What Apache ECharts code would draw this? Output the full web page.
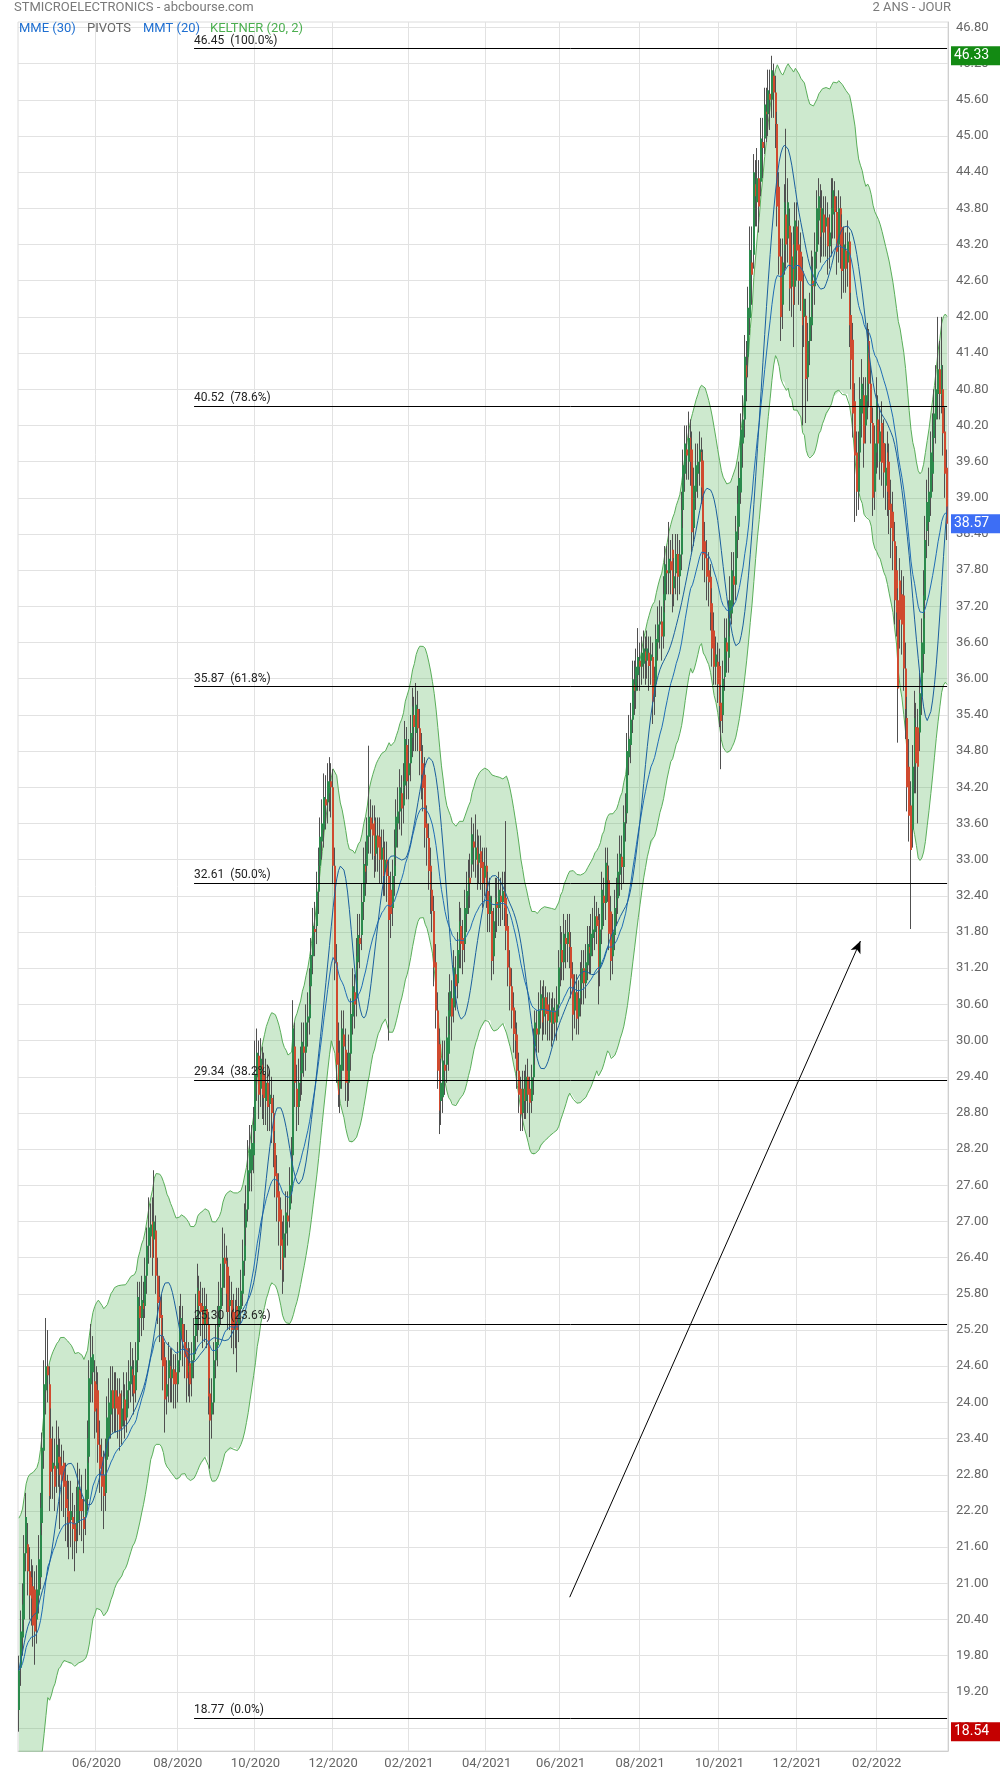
<!DOCTYPE html>
<html><head><meta charset="utf-8">
<script src="https://cdn.jsdelivr.net/npm/echarts@6/dist/echarts.min.js"></script>
<style>html,body{margin:0;padding:0;background:#fff}#c{width:1000px;height:1774px}</style>
</head><body><div id="c"></div>
<script>
// Daily candles: [open, close, low, high]
const ohlc = [
[18.9,19.56,18.54,19.8],[19.6,20.2,19.3,20.55],[20.1,20.65,19.8,21],[20.4,21.5,20.2,21.8],[21.5,22.1,21.2,22.5],
[21.65,21.2,20.8,22],[21.2,20.8,20.4,21.6],[21.1,20.75,20.3,21.4],[20.95,20.3,19.95,21.3],[20.9,20.2,19.65,21.2],
[20.4,20.9,20,21.3],[20.8,21.4,20.5,21.8],[21.1,22.25,20.9,22.5],[22,23.25,21.8,23.5],[23.2,24.3,22.9,24.7],
[24.2,24.6,23.8,25.4],[24.6,24.45,24,25.2],[24.3,22.45,22.2,24.6],[23.4,22.85,22.4,23.9],[22.9,23,22.4,23.6],
[22.95,22.6,22.2,23.4],[22.9,23.3,22.5,23.7],[23.1,23,22.6,23.6],[23.1,22.8,21.9,23.4],[22.95,22.7,22.2,23.3],
[23,22.6,22.1,23.2],[22.7,22.25,21.7,23],[22.4,22.1,21.6,22.8],[22.2,22,21.4,22.7],[22.05,22.2,21.6,22.7],
[22.1,21.9,21.4,22.5],[22,21.7,21.2,22.3],[21.9,22.2,21.5,22.6],[22,22.6,21.7,23],[22.55,22.2,21.8,22.9],
[22.4,22.2,21.7,22.8],[22.1,21.9,21.5,22.4],[22.1,22.55,21.8,22.9],[22.4,23.4,22.2,23.7],[23.1,24.4,23,24.7],
[24.3,24.75,24,25.3],[24.5,24.8,24,25.1],[24.35,23.85,23.4,24.7],[24.3,23.9,23.5,24.6],[24.2,23.3,23,24.5],
[23.3,22.9,22.5,23.7],[23.1,22.6,22.2,23.4],[22.8,22.45,21.9,23.2],[22.5,23.05,22.2,23.4],[23.05,23.75,22.8,24.1],
[23.4,24,23.1,24.4],[23.8,24.2,23.4,24.6],[24.2,23.9,23.5,24.6],[23.9,24.2,23.5,24.5],[24.2,23.9,23.5,24.5],
[24.1,23.8,23.4,24.4],[24.15,23.55,23.2,24.4],[23.6,23.9,23.3,24.2],[23.9,24.1,23.6,24.5],[24.05,23.7,23.4,24.3],
[23.75,24.2,23.5,24.5],[24.2,24.35,23.9,24.7],[24.3,24.6,24,25],[24.55,24.45,24.1,24.9],[24.45,24.15,23.8,24.7],
[24.2,24.7,24,25],[24.7,25.75,24.5,26],[25.6,25.4,25,26],[25.4,25.7,25.1,26.1],[25.65,25.55,25.2,26],
[25.6,26.1,25.4,26.4],[26.1,26.6,25.8,26.9],[26.6,26.9,26.3,27.4],[26.75,26.95,26.4,27.3],[27,26.4,26.1,27.4],
[26.7,27,26.4,27.85],[26.85,26.1,25.8,27.1],[26.1,25.65,25.3,26.4],[25.75,25.4,25,26.1],[25.45,25.1,24.7,25.8],
[25.1,24.6,24.2,25.4],[24.75,24.05,23.5,25],[24.1,24.3,23.8,24.7],[24.4,24.7,24,25],[24.6,24.4,24,24.9],
[24.4,24.55,24,24.9],[24.55,24.3,23.9,24.8],[24.5,24.3,23.9,24.8],[24.3,24.7,24,25],[24.7,25.3,24.5,25.6],
[25.05,25.4,24.8,25.8],[25.3,25,24.6,25.6],[25,24.75,24.4,25.3],[24.9,24.4,24,25.2],[24.5,24.6,24.1,25],
[24.65,24.3,24,24.9],[24.4,24.7,24.1,25],[24.7,25.1,24.4,25.4],[25.1,25.4,24.8,25.8],[25.3,25.9,25,26.3],
[25.85,25.6,25.2,26.1],[25.65,25.5,25.1,26],[25.6,25.3,24.9,25.9],[25.3,25.6,25,25.9],[25.55,25.3,24.9,25.8],
[25.3,24.1,23.8,25.5],[24.15,23.7,22.9,24.4],[23.8,24,23.4,24.4],[24,24.7,23.8,25],[24.7,25,24.4,25.3],
[24.95,25.25,24.6,25.6],[25.25,25.6,25,26],[25.55,25.9,25.3,26.3],[25.9,26.4,25.6,26.9],[26.4,26.3,25.9,26.8],
[26.35,25.8,25.5,26.6],[26.25,25.5,25.2,26.4],[25.6,25.7,25.2,26.1],[25.7,25.2,24.9,26],[25.5,25.2,24.8,25.8],
[25.2,25.4,24.9,25.7],[25.6,25.2,24.5,25.9],[25.3,25.6,25,25.9],[25.55,25.85,25.3,26.2],[25.8,26.35,25.6,26.7],
[26.35,26.9,26.1,27.3],[26.9,27.2,26.6,27.6],[27.2,27.85,27,28.35],[27.8,28.2,27.5,28.6],[27.85,28.3,27.5,28.6],
[28.1,28.6,27.8,28.9],[28.5,29.45,28.3,30],[29.4,29.8,29,30.2],[29.75,29.1,28.7,30],[29.2,29.7,28.9,30.04],
[29.6,29.1,28.7,29.9],[29.45,29.05,28.6,29.8],[29,29.3,28.6,29.7],[29.3,28.9,28.5,29.6],[28.95,29.1,28.5,29.5],
[29.05,28.8,28.3,29.4],[28.8,28.3,27.9,29.1],[28.3,27.75,27.4,28.5],[27.8,27.4,27,28.1],[27.5,27,26.6,27.8],
[27.2,26.6,26.2,27.4],[26.7,26.2,25.8,27],[26.4,26.8,26,27.1],[26.8,27.15,26.4,27.5],[27.1,27,26.6,27.5],
[27.2,27.6,26.9,27.9],[27.5,28.1,27.3,28.4],[28.1,30.2,28,30.67],[29.9,29.3,28.9,30.3],[29.2,28.9,28.5,29.6],
[28.9,29.3,28.6,29.7],[29.3,29.5,29,29.9],[29.46,29.98,29.1,30.3],[29.9,29.8,29.4,30.3],[29.8,30.3,29.5,30.6],
[30.3,30.4,29.9,30.8],[30.37,30.9,30.1,31.2],[30.9,31.42,30.6,31.7],[31.4,31.9,31.1,32.2],[31.85,31.8,31.4,32.3],
[31.9,32.47,31.6,32.8],[32.47,32.9,32.1,33.2],[32.9,33.38,32.6,33.7],[33.3,33.6,33,34],[33.5,34.04,33.2,34.43],
[34,33.9,33.5,34.4],[33.95,34.3,33.6,34.6],[34.1,34.3,33.8,34.7],[34.3,34.2,33.7,34.6],[34.2,32.9,32.6,34.5],
[32.9,31.3,31,33.2],[31.3,29.6,29.3,31.6],[29.8,29.1,28.9,30.3],[29.2,29.6,28.8,30],[29.5,30.2,29.2,30.5],
[30.1,29.9,29.5,30.5],[29.85,29.3,29,30.2],[29.5,29.3,28.9,29.8],[29.3,29.8,29,30.1],[29.78,30.44,29.5,30.7],
[30.4,30.9,30.1,31.2],[30.8,30.6,30.2,31.1],[30.7,31.4,30.4,31.7],[31.3,31.75,31,32.1],[31.7,31.6,31.2,32.1],
[31.75,32.3,31.5,32.6],[32.3,32.93,32,33.2],[32.9,32.8,32.4,33.3],[32.9,33.4,32.6,33.7],[33.38,33.71,33.1,34.89],
[33.7,33.5,33.1,34],[33.6,33.4,33,33.9],[33.65,33.06,32.7,33.9],[33.1,33.4,32.8,33.7],[33.4,33.2,32.8,33.7],
[33.38,33,32.6,33.7],[33,33.2,32.6,33.5],[33.19,32.73,32.4,33.5],[32.8,33,32.4,33.3],[33,32.73,32.3,33.3],
[32.73,32,30,33],[32.5,32.1,31.7,32.8],[32.2,32.73,31.9,33],[32.73,33.2,32.4,33.5],[33.2,33.71,32.9,34],
[33.6,33.8,33.2,34.2],[33.8,34.2,33.5,34.5],[34.1,33.85,33.4,34.4],[33.9,34.3,33.6,34.6],[34.23,35,34,35.3],
[34.9,34.3,34,35.2],[34.4,34.6,34,35],[34.6,35.1,34.3,35.4],[35.02,35.54,34.7,35.85],[35.4,35.2,34.8,35.7],
[35.1,35.57,34.8,35.93],[35.5,35.18,34.8,35.8],[35.18,34.8,34.4,35.5],[34.8,34.41,34,35.1],[34.6,34.19,33.8,34.9],
[34.41,33.53,33.2,34.7],[33.6,33.36,32.9,33.9],[33.36,32.81,32.5,33.6],[32.9,32.5,32.1,33.2],[32.5,32.15,31.8,32.8],
[32.15,31.21,30.9,32.4],[31.3,30.5,30.2,31.6],[30.5,29.5,29.2,30.8],[29.94,28.84,28.45,30.2],[29,29.3,28.6,29.7],
[29.06,29.67,28.8,30],[29.6,29.5,29.1,30],[29.6,30.05,29.3,30.4],[29.78,30.5,29.5,30.8],[30.4,30.82,30.1,31.1],
[30.7,30.4,30,31],[30.55,31.21,30.3,31.5],[31.1,30.9,30.5,31.4],[30.95,31.5,30.7,31.8],[31.43,31.98,31.2,32.3],
[31.9,31.6,31.2,32.2],[31.7,31.5,31.1,32],[31.6,32.2,31.3,32.5],[32.1,32.48,31.8,32.8],[32.4,32.7,32.1,33],
[32.7,32.6,32.2,33.1],[32.92,33.42,32.7,33.7],[33.3,33.2,32.8,33.6],[33,33.2,32.7,33.75],[33.2,32.92,32.5,33.5],
[32.95,33.1,32.6,33.4],[33.14,32.86,32.5,33.4],[32.96,32.6,32.2,33.2],[32.7,32.9,32.4,33.2],[32.9,32.5,32.2,33.2],
[32.48,32.1,31.8,32.8],[32.1,32.4,31.8,32.7],[32.15,31.32,31,32.4],[31.4,31.98,31.1,32.2],[31.98,32.37,31.7,32.7],
[32.3,32.2,31.8,32.7],[32.2,32.5,31.9,32.8],[32.4,32.3,31.9,32.7],[32.3,32.48,32,32.8],[32.48,32.2,31.9,32.8],
[32.37,31.82,31.5,33.64],[31.9,31.21,30.9,32.1],[31.21,30.9,30.5,31.5],[30.9,30.5,30.2,31.2],[30.55,30.11,29.8,30.8],
[30.2,30,29.7,30.5],[30.1,29.5,29.2,30.3],[29.5,29.1,28.8,29.8],[29.2,28.78,28.5,29.4],[28.8,29.2,28.5,29.5],
[29.2,29,28.7,29.5],[29,29.4,28.7,29.6],[29.4,29.1,28.8,29.7],[29.2,28.97,28.4,29.4],[29,29.39,28.8,29.6],
[29.39,29.94,29.1,30.2],[29.9,30.3,29.6,30.5],[30.2,30.1,29.8,30.5],[30.1,30.5,29.8,30.8],[30.5,30.77,30.2,31],
[30.7,30.3,30,30.9],[30.4,30.72,30.1,31],[30.72,30.44,30.1,30.9],[30.6,30.33,30,30.8],[30.3,30.5,30,30.8],
[30.5,30.28,29.9,30.7],[30.28,30.55,30,30.8],[30.5,30.3,30,30.7],[30.3,30.6,30,30.9],[30.6,31.21,30.4,31.5],
[31.21,31.6,30.9,31.9],[31.5,31.3,31,31.8],[31.3,31.77,31,32.1],[31.7,31.6,31.2,32],[31.6,31.8,31.3,32.1],
[31.8,31.55,31.2,32.1],[31.55,31.03,30.7,31.8],[31.1,30.43,30,31.3],[30.5,30.8,30.2,31.1],[30.8,30.36,30.1,31.1],
[30.4,30.7,30.1,31],[30.7,31,30.4,31.3],[30.95,31.2,30.6,31.5],[31.2,30.95,30.6,31.5],[30.95,31.3,30.7,31.6],
[31.25,31.6,31,31.9],[31.55,31.45,31.1,31.9],[31.4,31.77,31.1,32.1],[31.7,31.84,31.4,32.2],[31.8,32.06,31.5,32.4],
[32.06,31.9,31.6,32.3],[32,31.17,30.6,32.2],[31.2,31.84,30.9,32.1],[31.84,32.5,31.6,32.8],[32.4,32.28,31.9,32.7],
[32.28,32.95,32,33.2],[32.9,32.66,32.3,33.2],[32.66,31.77,31.5,32.9],[32.14,31.32,31,32.4],[31.4,31.8,31.1,32.1],
[31.75,32.2,31.5,32.5],[32.2,32.36,31.9,32.7],[32.36,32.8,32.1,33.1],[32.75,33.1,32.4,33.4],[33.05,32.88,32.5,33.4],
[32.88,33.62,32.6,33.9],[33.62,33.77,33.3,34.1],[33.77,34.8,33.6,35.1],[34.7,35,34.4,35.4],[34.9,35.32,34.6,35.6],
[35.32,35.99,35.1,36.3],[35.9,35.8,35.4,36.3],[35.8,36.2,35.5,36.5],[36.06,36.36,35.8,36.84],[36.3,36.2,35.8,36.6],
[36.2,36.43,35.9,36.7],[36.25,36.5,36,36.8],[36.45,36.3,35.9,36.7],[36.3,36.5,36,36.8],[36.43,36.21,35.8,36.7],
[36.3,36.4,35.9,36.7],[36.36,35.62,35.25,36.6],[35.7,35.91,35.4,36.2],[35.91,36.66,35.7,36.9],[36.6,36.9,36.3,37.2],
[36.9,36.95,36.5,37.3],[36.95,36.7,36.3,37.2],[36.7,37.4,36.5,37.7],[37.3,37.9,37.1,38.2],[37.8,37.75,37.4,38.2],
[37.75,37.99,37.4,38.6],[37.95,37.8,37.4,38.3],[38.14,37.4,37.1,38.4],[37.5,37.7,37.2,38],[37.75,38.07,37.4,38.4],
[38.07,37.69,37.3,38.4],[37.7,38.06,37.4,38.3],[38.06,38.8,37.8,39.1],[38.8,39.54,38.5,39.8],[39.4,39.9,39.1,40.2],
[39.8,39.7,39.3,40.2],[39.6,39.99,39.3,40.43],[40,39.6,39.2,40.3],[39.8,38.43,38.1,40.1],[38.5,39.2,38.2,39.5],
[39.1,39.54,38.8,39.9],[39.4,39.6,39,39.9],[39.6,39.8,39.2,40.1],[39.76,39.17,38.9,40],[39.62,38.06,37.8,39.8],
[38.28,38,37.6,38.6],[38,37.69,37.3,38.3],[37.8,37.6,37.2,38.1],[37.69,37.1,36.8,37.9],[37.25,36.5,36.2,37.5],
[36.8,36.2,35.9,37.1],[36.2,36.4,35.9,36.7],[36.28,35.91,35.6,36.6],[36.21,35.55,35.2,36.5],[35.6,35.3,34.5,35.9],
[35.4,36,35.1,36.3],[36.03,36.68,35.8,37],[36.6,36.45,36.1,37],[36.35,37,36.1,37.3],[37,37.3,36.7,37.7],
[37.08,37.8,36.9,38.1],[37.7,37.56,37.2,38.1],[37.56,38.44,37.3,38.7],[38.3,38.9,38,39.2],[38.52,39.33,38.3,39.6],
[39.09,40.13,38.9,40.4],[39.9,40.3,39.5,40.7],[40.3,41.34,40,41.7],[41.2,41,40.6,41.6],[41.34,42.15,41,42.5],
[41.98,43.11,41.7,43.5],[42.9,42.7,42.2,43.5],[43.03,44.4,42.8,44.7],[44.2,44,43.5,44.6],[43.9,44.3,43.5,44.8],
[44.3,43.83,43.4,44.6],[44.24,44.96,44,45.3],[44.9,44.8,44.3,45.3],[44.96,45.52,44.7,45.8],[45.4,45.36,44.9,45.8],
[45.36,45.76,45,46.1],[45.7,45.6,45.1,46.1],[45.6,46.09,45.3,46.33],[46,45.72,45.3,46.2],[45.72,45.2,44.8,46],
[45.2,43.83,43.5,45.4],[44.16,43,42.7,44.4],[43,42,41.6,43.3],[42.2,42.9,41.8,43.3],[43.1,43.9,42.7,44.2],
[43.7,43.2,42.8,45.12],[43.3,43.9,42.9,44.3],[43.51,42.47,42.1,43.8],[42.5,43,42,43.4],[43.2,42.2,41.5,43.5],
[42.5,43.6,42.2,43.9],[43.5,43.1,42.6,43.9],[43.2,42.6,42.2,43.6],[43.08,42.59,42.1,43.4],[42.76,41.86,40.2,43],
[42,42.3,41.5,42.7],[42.02,40.97,40.24,42.3],[41,41.6,40.6,41.9],[41.6,42,41.2,42.4],[41.86,42.84,41.6,43.1],
[42.6,42.51,42,43],[42.51,43.08,42.2,43.4],[43.08,43.8,42.8,44.1],[43.6,44,43.2,44.3],[43.81,43.33,42.9,44.2],
[43.4,43.8,43,44.1],[43.7,43.4,43,44],[43.5,43.65,43,44],[43.65,43.17,42.7,43.9],[43.17,43.4,42.8,43.7],
[43.4,43.8,43,44.3],[43.7,44.1,43.3,44.3],[44,43.74,43.3,44.25],[43.74,43.08,42.7,44],[43.2,43.8,42.9,44.1],
[43.8,43.2,42.8,44],[43.49,42.76,42.3,43.7],[42.8,43.2,42.4,43.5],[43.1,42.8,42.4,43.4],[42.9,43.25,42.5,43.6],
[43.25,41.86,41.5,43.4],[42.03,41.29,40.8,42.4],[41.62,40.4,40,41.9],[40.6,39.7,38.6,40.9],[39.75,39.1,38.7,40.1],
[39.1,39.75,38.8,40.1],[39.75,40.64,39.5,41],[40.4,40.89,40,41.3],[40.7,39.9,39.5,41],[40.2,40.7,39.9,41],
[40.6,41.6,40.3,41.9],[41.6,40.89,40.5,41.8],[40.89,40.24,39.9,41.2],[40.24,39,38.7,40.5],[39.1,39.9,38.8,40.2],
[39.75,40.64,39.4,41],[40.3,39.9,39.5,40.7],[39.6,40.1,39.3,40.5],[40.24,39.58,39.2,40.6],[39.91,39.42,39,40.3],
[39.2,39.5,38.8,39.9],[39.75,39.1,38.7,40.1],[39.6,38.8,38.4,39.9],[38.9,38.5,38,39.3],[38.77,38.28,37.8,39.1],
[38.28,37.3,36.9,38.6],[37.8,37.1,36.7,38.2],[37.3,35.84,34.94,37.5],[37.63,36.98,36.5,38],[37.4,36.9,36.4,37.8],
[37.38,36.17,35.8,37.7],[36.17,35.5,35,36.6],[35.35,34.2,33.8,35.7],[34.54,33.73,33.3,35],[33.9,33.16,31.85,34.3],
[33.5,34.54,33.2,34.9],[34.54,35.35,34.1,35.8],[35.2,34.6,34.1,35.6],[35.19,34.54,33.6,35.5],[35.11,35.76,34.8,36.1],
[35.7,36.6,35.4,37],[36.41,37.38,36.1,37.8],[37.3,38.3,37,38.7],[38.45,38.93,38,39.3],[38.6,39.1,38.2,39.5],
[39,39.75,38.7,40.1],[39.4,40,39.1,40.4],[39.99,40.4,39.6,40.8],[40.3,40.8,39.9,41.2],[40.72,41.13,40.3,42],
[41.13,40.72,40.3,41.6],[40.7,41.2,40.4,42],[40.8,40.07,39.7,41.2],[40.1,39.4,39,40.5],[39.5,38.57,38.3,39.8]
];
const startDate = [2020, 2, 27];
const holidays = ['2020-04-10','2020-04-13','2020-05-01','2020-12-25','2021-01-01','2021-04-02','2021-04-05'];
const xTickLabels = ['06/2020','08/2020','10/2020','12/2020','02/2021','04/2021','06/2021','08/2021','10/2021','12/2021','02/2022'];
const yTickValues = [18.6,19.2,19.8,20.4,21.0,21.6,22.2,22.8,23.4,24.0,24.6,25.2,25.8,26.4,27.0,27.6,28.2,28.8,29.4,30.0,30.6,31.2,31.8,32.4,33.0,33.6,34.2,34.8,35.4,36.0,36.6,37.2,37.8,38.4,39.0,39.6,40.2,40.8,41.4,42.0,42.6,43.2,43.8,44.4,45.0,45.6,46.2,46.8];
const fibValues = [46.45, 40.52, 35.87, 32.61, 29.34, 25.30, 18.77];
const fibPercents = ['100.0%','78.6%','61.8%','50.0%','38.2%','23.6%','0.0%'];
const fibStartIndex = 97;
const arrowFrom = [305, 20.77];
const arrowTo = [466, 31.65];

// trading dates
const dates = [];
{
  const d = new Date(Date.UTC(startDate[0], startDate[1], startDate[2]));
  while (dates.length < ohlc.length) {
    const s = d.toISOString().slice(0, 10), w = d.getUTCDay();
    if (w !== 0 && w !== 6 && !holidays.includes(s)) dates.push(s);
    d.setUTCDate(d.getUTCDate() + 1);
  }
}
const monthLab = s => s.slice(5, 7) + '/' + s.slice(0, 4);
const tickIdx = new Set();
dates.forEach((s, i) => {
  if (xTickLabels.includes(monthLab(s)) && (i === 0 || dates[i - 1].slice(5, 7) !== s.slice(5, 7))) tickIdx.add(i);
});

// indicators derived from the candles
const N = ohlc.length;
const closes = ohlc.map(r => r[1]);
function ema(a, n) { const k = 2 / (n + 1); let e = a[0]; return a.map((v, i) => (e = i ? e + k * (v - e) : v)); }
function sma(a, n) { let s = 0; return a.map((v, i) => { s += v; if (i >= n) s -= a[i - n]; return s / Math.min(i + 1, n); }); }
function rma(a, n) { let e = a[0]; return a.map((v, i) => (e = i ? e + (v - e) / n : v)); }
const mme30 = ema(closes, 30);
const mmt20 = sma(sma(closes, 10), 11);
const tr = ohlc.map((r, i) => { const l = r[2], h = r[3]; if (!i) return h - l; const pc = ohlc[i - 1][1]; return Math.max(h - l, Math.abs(h - pc), Math.abs(l - pc)); });
const atr = rma(tr, 20);
const kMid = ema(closes, 20);
const kUp = kMid.map((m, i) => m + 2 * atr[i]);
const kLow = kMid.map((m, i) => m - 2 * atr[i]);
const kWidth = kUp.map((u, i) => u - kLow[i]);
const hiVal = Math.max(...ohlc.map(r => r[3]));
const loVal = Math.min(...ohlc.map(r => r[2]));
const lastVal = closes[N - 1];

function renderCandle(params, api) {
  const i = api.value(0), o = api.value(1), c = api.value(2), l = api.value(3), h = api.value(4);
  const pO = api.coord([i, o]), pC = api.coord([i, c]), pL = api.coord([i, l]), pH = api.coord([i, h]);
  const left = Math.round(pO[0] - 1);
  const xw = left + 0.5;
  const top = Math.min(pO[1], pC[1]), ht = Math.max(1, Math.abs(pO[1] - pC[1]));
  return { type: 'group', children: [
    { type: 'line', shape: { x1: xw, y1: pH[1], x2: xw, y2: pL[1] }, style: { stroke: '#505050', lineWidth: 1 } },
    { type: 'rect', shape: { x: left, y: top, width: 2, height: ht }, style: { fill: c >= o ? '#2b8a4c' : '#d04a2f' } }
  ]};
}

const FONT = 'Roboto, "Noto Sans", sans-serif';
const chart = echarts.init(document.getElementById('c'));
chart.setOption({
  animation: false,
  backgroundColor: '#fff',
  grid: { left: 18, right: 52, top: 22, bottom: 23, show: true, borderColor: '#dcdcdc', borderWidth: 1 },
  graphic: [
    { type: 'text', left: 14, top: 1, style: { text: 'STMICROELECTRONICS - abcbourse.com', fill: '#7a7a7a', font: '13px ' + FONT } },
    { type: 'text', right: 49, top: 1, style: { text: '2 ANS - JOUR', fill: '#7a7a7a', font: '13px ' + FONT } },
    { type: 'text', left: 19, top: 22, z: 100, style: { text: 'MME (30)', fill: '#1f6fd1', font: '13px ' + FONT } },
    { type: 'text', left: 87, top: 22, z: 100, style: { text: 'PIVOTS', fill: '#666', font: '13px ' + FONT } },
    { type: 'text', left: 143, top: 22, z: 100, style: { text: 'MMT (20)', fill: '#1f6fd1', font: '13px ' + FONT } },
    { type: 'text', left: 210, top: 22, z: 100, style: { text: 'KELTNER (20, 2)', fill: '#4caf50', font: '13px ' + FONT } }
  ],
  xAxis: {
    type: 'category', data: dates, boundaryGap: true,
    axisLine: { lineStyle: { color: '#cfcfcf' } },
    axisTick: { show: false },
    axisLabel: { interval: i => tickIdx.has(i), formatter: v => monthLab(v), color: '#666', fontSize: 13, fontFamily: FONT, margin: 6 },
    splitLine: { show: true, interval: i => tickIdx.has(i), lineStyle: { color: '#e2e2e2' } }
  },
  yAxis: {
    type: 'value', position: 'right', min: 18.22, max: 46.89,
    axisLine: { show: true, lineStyle: { color: '#cfcfcf' } },
    axisTick: { show: false, customValues: yTickValues },
    axisLabel: { customValues: yTickValues, formatter: v => Number(v).toFixed(2), color: '#666', fontSize: 13, fontFamily: FONT, margin: 8 },
    splitLine: { show: true, lineStyle: { color: '#e2e2e2' } }
  },
  series: [
    { name: 'kcBase', type: 'line', data: kLow, stack: 'kc', symbol: 'none', silent: true, lineStyle: { opacity: 0 }, z: 1 },
    { name: 'kcFill', type: 'line', data: kWidth, stack: 'kc', symbol: 'none', silent: true, lineStyle: { opacity: 0 },
      areaStyle: { color: 'rgba(76,175,80,0.28)', opacity: 1 }, z: 1 },
    { name: 'kcUp', type: 'line', data: kUp, symbol: 'none', silent: true, lineStyle: { color: '#5aae5a', width: 1 }, z: 2 },
    { name: 'kcLow', type: 'line', data: kLow, symbol: 'none', silent: true, lineStyle: { color: '#5aae5a', width: 1 }, z: 2 },
    { name: 'candles', type: 'custom', data: ohlc.map((r, i) => [i, r[0], r[1], r[2], r[3]]),
      encode: { x: 0, y: [1, 2, 3, 4] }, renderItem: renderCandle, clip: true, z: 3 },
    { name: 'MME (30)', type: 'line', data: mme30, symbol: 'none', silent: true, lineStyle: { color: '#1f6db5', width: 1 }, z: 4,
      markLine: {
        silent: true, symbol: ['none', 'none'],
        lineStyle: { color: '#000', width: 1, type: 'solid' },
        label: { position: 'insideStartTop', distance: [0, 2], color: '#222', fontSize: 12, fontFamily: FONT },
        data: fibValues.map((v, k) => [
          { coord: [fibStartIndex, v], label: { formatter: v.toFixed(2) + '  (' + fibPercents[k] + ')' } },
          { coord: [N - 1, v] }
        ])
      } },
    { name: 'MMT (20)', type: 'line', data: mmt20, symbol: 'none', silent: true, lineStyle: { color: '#1a5f9e', width: 1 }, z: 4,
      markLine: {
        silent: true, symbol: ['none', 'arrow'], symbolSize: [8, 12],
        lineStyle: { color: '#000', width: 1, type: 'solid' },
        label: { show: false },
        data: [[{ coord: arrowFrom }, { coord: arrowTo }]]
      } },
    { name: 'tags', type: 'line', data: [], symbol: 'none', silent: true, z: 10,
      markLine: {
        silent: true, symbol: ['none', 'none'],
        lineStyle: { color: 'rgba(0,0,0,0)', width: 0, type: 'solid' },
        label: { show: true, position: 'end', distance: 3, color: '#fff', fontSize: 14, fontFamily: FONT, lineHeight: 14,
                 padding: [3, 14, 2, 3], formatter: p => Number(p.value).toFixed(2) },
        data: [
          { yAxis: hiVal, label: { backgroundColor: '#138a13' } },
          { yAxis: lastVal, label: { backgroundColor: '#3d6ef5' } },
          { yAxis: loVal, label: { backgroundColor: '#c40000' } }
        ]
      } }
  ]
});
</script></body></html>
